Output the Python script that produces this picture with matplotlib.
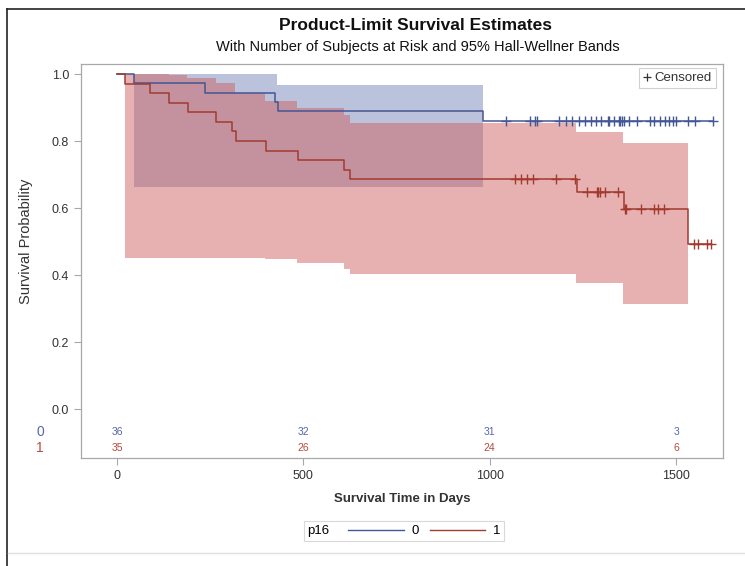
import numpy as np
import matplotlib
matplotlib.use('Agg')
import matplotlib.pyplot as plt
from matplotlib.lines import Line2D
from matplotlib.offsetbox import HPacker

plt.rcParams['font.family'] = ['Liberation Sans', 'DejaVu Sans']

# p16 = 0 : KM steps
t0 = [0, 46, 237, 424, 433, 983]
s0 = [1.0, 0.972, 0.944, 0.917, 0.889, 0.861]
end0 = 1600
cens0 = [1044, 1108, 1121, 1128, 1187, 1204, 1221, 1239, 1255, 1271, 1285,
         1298, 1317, 1321, 1333, 1346, 1349, 1354, 1359, 1375, 1395, 1429,
         1442, 1457, 1469, 1481, 1492, 1499, 1533, 1550, 1600]
# Hall-Wellner band, p16 = 0
bt0 = [46, 429, 983]
bu0 = [1.0, 0.966, 0.966]
bl0 = [0.662, 0.662, 0.662]

# p16 = 1
t1 = [0, 22, 87, 139, 189, 265, 308, 318, 399, 485, 610, 625, 1233, 1359, 1532]
s1 = [1.0, 0.971, 0.943, 0.914, 0.886, 0.857, 0.829, 0.800, 0.771, 0.743,
      0.714, 0.686, 0.648, 0.596, 0.494]
end1 = 1593
cens1 = [1068, 1084, 1101, 1117, 1178, 1229, 1260, 1287, 1291, 1296, 1309,
         1345, 1362, 1366, 1406, 1441, 1452, 1468, 1548, 1558, 1582, 1593]
bt1 = [22, 139, 188, 264, 317, 398, 483, 608, 625, 1231, 1357, 1531]
bu1 = [1.0, 0.996, 0.989, 0.972, 0.944, 0.92, 0.899, 0.879, 0.854, 0.827,
       0.794, 0.794]
bl1 = [0.450, 0.450, 0.450, 0.450, 0.450, 0.447, 0.436, 0.418, 0.402, 0.376,
       0.314, 0.314]

# at risk table
risk_t = [0, 500, 1000, 1500]
risk0 = [36, 32, 31, 3]
risk1 = [35, 26, 24, 6]

blue = '#445694'
red = '#A23A2E'
blue_fill = '#6F7EB3'
red_fill = '#D05B5B'
grey = '#a8a8a8'
txt = '#333333'

fig = plt.figure(figsize=(7.45, 5.66), dpi=100)
W, H = 745, 566
ax = fig.add_axes([81 / W, 1 - 458 / H, (723 - 81) / W, (458 - 64) / H])

# bands
ax.fill_between(bt0, bl0, bu0, step='post', color=blue_fill, alpha=0.47, lw=0)
ax.fill_between(bt1, bl1, bu1, step='post', color=red_fill, alpha=0.47, lw=0)


def km(ts, ss, end):
    return list(ts) + [end], list(ss) + [ss[-1]]


x0, y0 = km(t0, s0, end0)
x1, y1 = km(t1, s1, end1)
ax.step(x0, y0, where='post', color=blue, lw=1.1)
ax.step(x1, y1, where='post', color=red, lw=1.1)

# censored marks
c0y = [s0[np.searchsorted(t0, c, side='right') - 1] for c in cens0]
c1y = [s1[np.searchsorted(t1, c, side='right') - 1] for c in cens1]
ax.plot(cens0, c0y, ls='none', marker='+', ms=6.5, mew=1.0, color=blue)
ax.plot(cens1, c1y, ls='none', marker='+', ms=6.5, mew=1.0, color=red)

# at risk numbers
for x, n in zip(risk_t, risk0):
    ax.text(x, -0.069, str(n), color='#5866a6', fontsize=7.5,
            ha='center', va='center')
for x, n in zip(risk_t, risk1):
    ax.text(x, -0.116, str(n), color='#b44a40', fontsize=7.5,
            ha='center', va='center')
ax.text(-0.064, -0.069, '0', color='#5866a6', fontsize=10, ha='center',
        va='center', transform=ax.get_yaxis_transform())
ax.text(-0.064, -0.116, '1', color='#b44a40', fontsize=10, ha='center',
        va='center', transform=ax.get_yaxis_transform())

ax.set_xlim(-97, 1626)
ax.set_ylim(-0.146, 1.030)
ax.set_xticks([0, 500, 1000, 1500])
ax.set_yticks([0, 0.2, 0.4, 0.6, 0.8, 1.0])
ax.set_yticklabels(['0.0', '0.2', '0.4', '0.6', '0.8', '1.0'])
ax.tick_params(colors=grey, labelcolor=txt, labelsize=9, length=5, width=0.8)
for sp in ax.spines.values():
    sp.set_color(grey)
    sp.set_linewidth(0.9)

ax.set_ylabel('Survival Probability', fontsize=10.5, color=txt)
ax.yaxis.set_label_coords(-0.075, 0.55)
ax.set_xlabel('Survival Time in Days', fontsize=9.5, color=txt,
              fontweight='bold')
ax.xaxis.set_label_coords(0.5, -0.089)

# censored legend
cl = ax.legend(handles=[Line2D([], [], ls='none', marker='+', ms=5.5,
                               color=txt, mew=0.9)],
               labels=['Censored'], loc='upper right',
               bbox_to_anchor=(0.989, 0.99), borderaxespad=0,
               fontsize=9.5, fancybox=False,
               edgecolor='#d0d0d0', handlelength=0.6, handletextpad=0.3,
               borderpad=0.3, framealpha=1)
cl.get_frame().set_linewidth(0.8)
for t in cl.get_texts():
    t.set_color(txt)

fig.text(416 / W, 1 - 26 / H, 'Product-Limit Survival Estimates',
         fontsize=12.5, fontweight='bold', ha='center', va='center',
         color='#111')
fig.text(418 / W, 1 - 47 / H,
         'With Number of Subjects at Risk and 95% Hall-Wellner Bands',
         fontsize=10.5, ha='center', va='center', color='#111')

# group legend
h0 = Line2D([], [], color=blue, lw=1.0)
h1 = Line2D([], [], color=red, lw=1.0)
leg = fig.legend(handles=[h0, h1], labels=['0', '1'], ncol=2, title='p16',
                 loc='center', bbox_to_anchor=(404 / W, 1 - 531 / H),
                 fontsize=9.5, title_fontsize=9.5, fancybox=False,
                 edgecolor='#d0d0d0', handlelength=4.2, handletextpad=0.6,
                 columnspacing=0.8, borderpad=0.3)
leg.get_frame().set_linewidth(0.8)
fs = leg._fontsize
leg._legend_box = HPacker(pad=leg.borderpad * fs, sep=1.4 * fs,
                          align='center',
                          children=[leg._legend_title_box,
                                    leg._legend_handle_box])
leg._legend_box.set_figure(fig)
leg._set_loc(leg._loc)

# outer borders of the screenshot
fig.add_artist(Line2D([7 / W, 7 / W], [0, 1 - 9 / H], color='#222', lw=1.2))
fig.add_artist(Line2D([7 / W, 1], [1 - 9 / H, 1 - 9 / H], color='#222', lw=1.2))
fig.add_artist(Line2D([8 / W, 1], [1 - 553 / H, 1 - 553 / H], color='#e0e0e0',
                      lw=1.0))

fig.savefig('out.png', dpi=100)
